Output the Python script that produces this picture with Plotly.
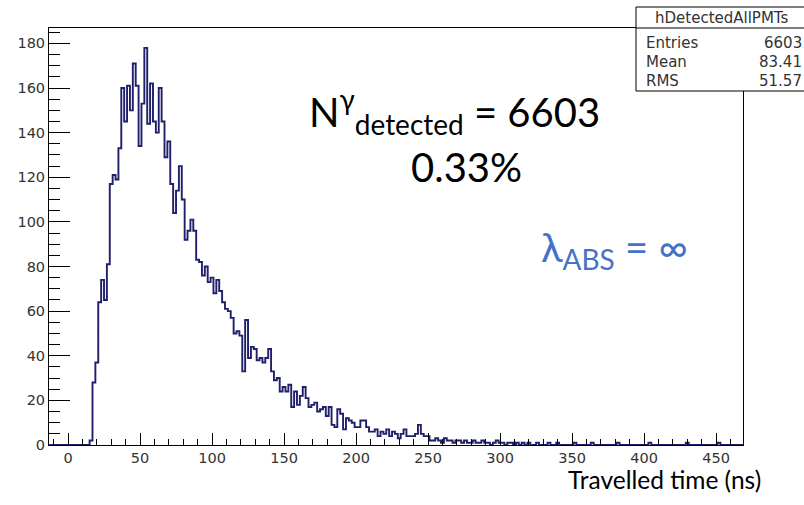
import plotly.graph_objects as go

# ---- histogram: hDetectedAllPMTs, 2 ns bins ----------------------------
BIN_WIDTH = 2.0
FIRST_CENTRE = -12.0          # centre of the first bin (ns)

# counts per bin, ten bins per row (first row starts at -12 ns)
counts = [
    0, 0, 0, 0, 0, 0, 0, 0, 0, 0,
    0, 0, 0, 0, 2, 28, 37, 64, 74, 65,
    81, 117, 121, 119, 133, 160, 145, 161, 150, 171,
    161, 134, 153, 178, 144, 162, 145, 140, 160, 145,
    129, 136, 117, 104, 114, 125, 110, 92, 96, 101,
    96, 83, 82, 76, 80, 73, 75, 68, 74, 69,
    64, 61, 60, 57, 50, 51, 49, 33, 56, 39,
    44, 43, 38, 39, 37, 39, 43, 33, 29, 30,
    24, 26, 24, 27, 17, 24, 18, 22, 26, 21,
    17, 18, 19, 15, 16, 17, 13, 17, 9, 8,
    16, 14, 7, 12, 11, 10, 8, 8, 11, 11,
    8, 6, 6, 7, 4, 6, 5, 7, 4, 6,
    5, 3, 5, 7, 4, 4, 4, 5, 9, 5,
    4, 4, 2, 2, 3, 2, 1, 3, 2, 2,
    1, 2, 2, 1, 2, 1, 1, 2, 1, 1,
    2, 1, 1, 0, 1, 2, 1, 1, 0, 1,
    1, 0, 1, 0, 1, 0, 1, 0, 0, 1,
    0, 0, 0, 1, 0, 0, 1, 0, 0, 0,
    0, 0, 1, 0, 0, 0, 0, 0, 1, 0,
    0, 0, 0, 0, 0, 0, 0, 1, 0, 0,
    0, 0, 0, 0, 0, 0, 0, 0, 1, 0,
    0, 0, 0, 0, 0, 0, 0, 0, 0, 0,
    0, 1, 0, 0, 0, 0, 0, 0, 0, 0,
    0, 0, 1, 0, 0, 0, 0, 0, 0, 0,
    0,
]

X_RANGE = [-13.2, 468.7]
Y_RANGE = [0, 186.9]
X_TICKS = [0, 50, 100, 150, 200, 250, 300, 350, 400, 450]
Y_TICKS = [0, 20, 40, 60, 80, 100, 120, 140, 160, 180]

stats_title = "hDetectedAllPMTs"
stats_rows = [("Entries", "6603"), ("Mean", "83.41"), ("RMS", "51.57")]

x_title = "Travelled time (ns)"
n_label = "N<sup>γ</sup><sub>detected</sub> = 6603"
frac_label = "0.33%"
abs_label = "λ<sub>ABS</sub> = ∞"

# ---- step outline built from the bin edges -----------------------------
edges = [FIRST_CENTRE - BIN_WIDTH / 2 + i * BIN_WIDTH for i in range(len(counts) + 1)]
step_x = edges
step_y = counts + [counts[-1]]

W, H = 804, 505
PLOT_L, PLOT_R, PLOT_T, PLOT_B = 49, 743, 28, 445


def px(x):
    return (x - PLOT_L) / (PLOT_R - PLOT_L)


def py(y):
    return (PLOT_B - y) / (PLOT_B - PLOT_T)


fig = go.Figure()
fig.add_trace(go.Scatter(
    x=step_x, y=step_y, mode="lines",
    line=dict(shape="hv", color="#1f1f6b", width=1.9),
    hoverinfo="skip", showlegend=False,
))

TICK_FONT = dict(family="DejaVu Sans", size=14.5, color="#333333")

fig.update_layout(
    width=W, height=H,
    margin=dict(l=PLOT_L, r=W - PLOT_R, t=PLOT_T, b=H - PLOT_B),
    paper_bgcolor="white", plot_bgcolor="white",
    showlegend=False,
    xaxis=dict(
        range=X_RANGE, tickvals=X_TICKS, ticktext=[str(v) for v in X_TICKS],
        showline=True, linecolor="black", linewidth=1, mirror=True,
        ticks="inside", ticklen=12, tickwidth=1, tickcolor="black",
        showgrid=False, zeroline=False, tickfont=TICK_FONT,
        minor=dict(ticks="inside", ticklen=6, dtick=10, tick0=0,
                   tickcolor="black", tickwidth=1, showgrid=False),
    ),
    yaxis=dict(
        range=Y_RANGE, tickvals=Y_TICKS, ticktext=[str(v) for v in Y_TICKS],
        showline=True, linecolor="black", linewidth=1, mirror=True,
        ticks="inside", ticklen=21, tickwidth=1, tickcolor="black",
        showgrid=False, zeroline=False, tickfont=TICK_FONT,
        minor=dict(ticks="inside", ticklen=10.5, dtick=5, tick0=0,
                   tickcolor="black", tickwidth=1, showgrid=False),
    ),
)

# ---- statistics box ------------------------------------------------------
fig.add_shape(type="rect", xref="paper", yref="paper",
              x0=px(636), x1=px(812), y0=py(91), y1=py(7),
              line=dict(color="black", width=1), fillcolor="white", layer="above")
fig.add_shape(type="line", xref="paper", yref="paper",
              x0=px(636), x1=px(812), y0=py(28), y1=py(28),
              line=dict(color="black", width=1), layer="above")

STAT_FONT = dict(family="DejaVu Sans", size=15, color="#333333")
fig.add_annotation(text=stats_title, xref="paper", yref="paper",
                   x=px(722), y=py(18), xanchor="center", yanchor="middle",
                   showarrow=False, font=STAT_FONT, borderpad=0)
for i, (name, val) in enumerate(stats_rows):
    yy = py(43 + 19 * i)
    fig.add_annotation(text=name, xref="paper", yref="paper",
                       x=px(645), y=yy, xanchor="left", yanchor="middle",
                       showarrow=False, font=STAT_FONT, borderpad=0)
    fig.add_annotation(text=val, xref="paper", yref="paper",
                       x=px(803), y=yy, xanchor="right", yanchor="middle",
                       showarrow=False, font=STAT_FONT, borderpad=0)

# ---- free text -----------------------------------------------------------
BIG = "Lato, 'Noto Sans', 'DejaVu Sans', sans-serif"
fig.add_annotation(text=n_label, xref="paper", yref="paper",
                   x=px(308), y=py(111), xanchor="left", yanchor="middle",
                   showarrow=False, font=dict(family=BIG, size=40, color="black"),
                   borderpad=0)
fig.add_annotation(text=frac_label, xref="paper", yref="paper",
                   x=px(466), y=py(167), xanchor="center", yanchor="middle",
                   showarrow=False, font=dict(family=BIG, size=40, color="black"),
                   borderpad=0)
fig.add_annotation(text=abs_label, xref="paper", yref="paper",
                   x=px(540), y=py(249), xanchor="left", yanchor="middle",
                   showarrow=False, font=dict(family=BIG, size=40, color="#4472C4"),
                   borderpad=0)
fig.add_annotation(text=x_title, xref="paper", yref="paper",
                   x=px(567), y=py(479), xanchor="left", yanchor="middle",
                   showarrow=False, font=dict(family=BIG, size=24.5, color="black"),
                   borderpad=0)

fig.write_html("out.html")
